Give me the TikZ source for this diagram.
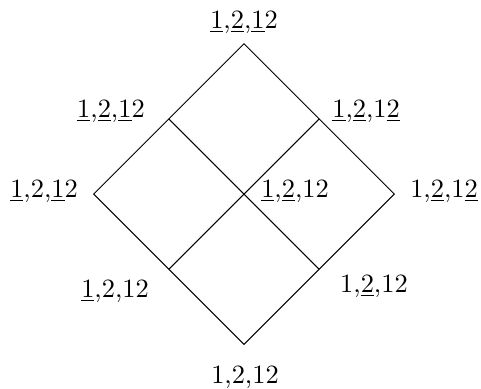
\documentclass[tikz,border=0pt]{standalone}
\usepackage{amsmath,amssymb}
\usepackage{tikz}
\usetikzlibrary{calc}

\newcommand{\us}[1]{\underline{#1}}

\begin{document}
\begin{tikzpicture}[scale=1]
\tikzset{lbl/.style={anchor=base,inner sep=0pt,font=\fontsize{10.6}{12}\selectfont}}
\useasboundingbox (-3.443,-2.738) rectangle (3.344,2.738);

% Lattice points
\coordinate (top) at (0,2.121);
\coordinate (bot) at (0,-2.121);
\coordinate (lft) at (-2.121,0);
\coordinate (rgt) at (2.121,0);
\coordinate (mid) at (0,0);
\coordinate (ul) at ($(top)!0.5!(lft)$);
\coordinate (ur) at ($(top)!0.5!(rgt)$);
\coordinate (ll) at ($(bot)!0.5!(lft)$);
\coordinate (lr) at ($(bot)!0.5!(rgt)$);

% Diamond and inner lines
\draw (top) -- (rgt) -- (bot) -- (lft) -- cycle;
\draw (ul) -- (lr);
\draw (ur) -- (ll);

% Labels
\node[lbl] (ltop) at (0,2.34) {\us{1},\us{2},\us{1}2};
\node[lbl] (lul) at (-1.877,1.087) {\us{1},\us{2},\us{1}2};
\node[lbl] (lur) at (1.722,1.087) {\us{1},\us{2},1\us{2}};
\node[lbl] (llft) at (-2.822,-0.042) {\us{1},2,\us{1}2};
\node[lbl] (lmid) at (0.72,-0.042) {\us{1},\us{2},12};
\node[lbl] (lrgt) at (2.822,-0.042) {1,\us{2},1\us{2}};
\node[lbl] (lll) at (-1.82,-1.453) {\us{1},2,12};
\node[lbl] (llr) at (1.834,-1.383) {1,\us{2},12};
\node[lbl] (lbot) at (0.014,-2.667) {1,2,12};

\end{tikzpicture}
\end{document}
